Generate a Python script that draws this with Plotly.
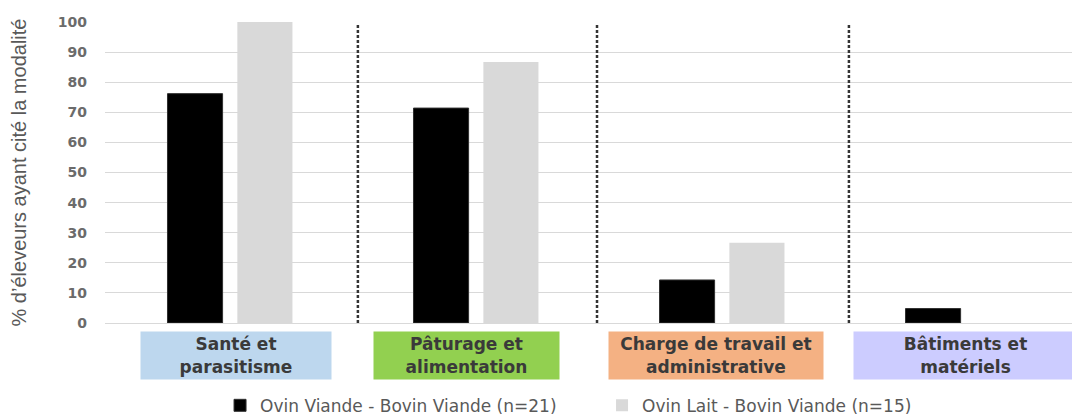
import plotly.graph_objects as go

categories = ["Santé et<br>parasitisme", "Pâturage et<br>alimentation",
              "Charge de travail et<br>administrative", "Bâtiments et<br>matériels"]
series_names = ["Ovin Viande - Bovin Viande (n=21)", "Ovin Lait - Bovin Viande (n=15)"]
ovin_viande = [76.2, 71.4, 14.3, 4.8]
ovin_lait = [100.0, 86.7, 26.7, 0.0]
y_ticks = [0, 10, 20, 30, 40, 50, 60, 70, 80, 90, 100]

# styles
box_colors = ["#BDD7EE", "#92D050", "#F4B183", "#CCCCFF"]
box_widths = [188, 183, 212, 221]
box_shift = [0.024, -0.039, -0.026, -0.010]
divider_shift = [0.02, -0.008, 0.016]
bar_w = 0.224

xpos = list(range(len(categories)))
fig = go.Figure()
fig.add_trace(go.Bar(x=xpos, y=ovin_viande, name=series_names[0], width=bar_w,
                     offset=-0.254, marker=dict(color="#000000", line=dict(color="#303030", width=1))))
fig.add_trace(go.Bar(x=xpos, y=ovin_lait, name=series_names[1], width=bar_w,
                     offset=0.030, marker=dict(color="#D9D9D9", line=dict(width=0))))

for i, s in enumerate(divider_shift):
    fig.add_shape(type="line", xref="x", yref="y", x0=i + 0.5 + s, x1=i + 0.5 + s, y0=0, y1=99.5,
                  line=dict(color="#333333", width=2.5, dash="3px,2px"))

for i, (lab, col, w, s) in enumerate(zip(categories, box_colors, box_widths, box_shift)):
    fig.add_annotation(x=i + s, xref="x", y=-0.108, yref="paper", text=lab, showarrow=False,
                       xanchor="center", yanchor="middle", bgcolor=col, width=w, height=45,
                       font=dict(family="DejaVu Sans", size=17, color="#3A3A3A", weight="bold"))

fig.update_layout(
    width=1072, height=408,
    margin=dict(l=97, r=5, t=14, b=93, autoexpand=False),
    plot_bgcolor="white", paper_bgcolor="white",
    showlegend=True,
    legend=dict(orientation="h", x=0.1186, xanchor="left", y=-0.275, yanchor="middle",
                entrywidth=337, entrywidthmode="pixels",
                font=dict(family="DejaVu Sans", size=17, color="#595959")),
    xaxis=dict(range=[-0.508, 3.435], showticklabels=False, showgrid=False, zeroline=False,
               showline=True, linecolor="#D9D9D9", linewidth=1),
    yaxis=dict(range=[0, 100], tickvals=y_ticks, showgrid=True, gridcolor="#D9D9D9", gridwidth=1,
               zeroline=False, ticklabelstandoff=17,
               tickfont=dict(family="DejaVu Sans", size=14, color="#6B6B6B", weight="bold"),
               title=dict(text="% d’éleveurs ayant cité la modalité", standoff=30,
                          font=dict(family="Liberation Sans", size=20, color="#595959"))),
)
fig.write_html("out.html")
